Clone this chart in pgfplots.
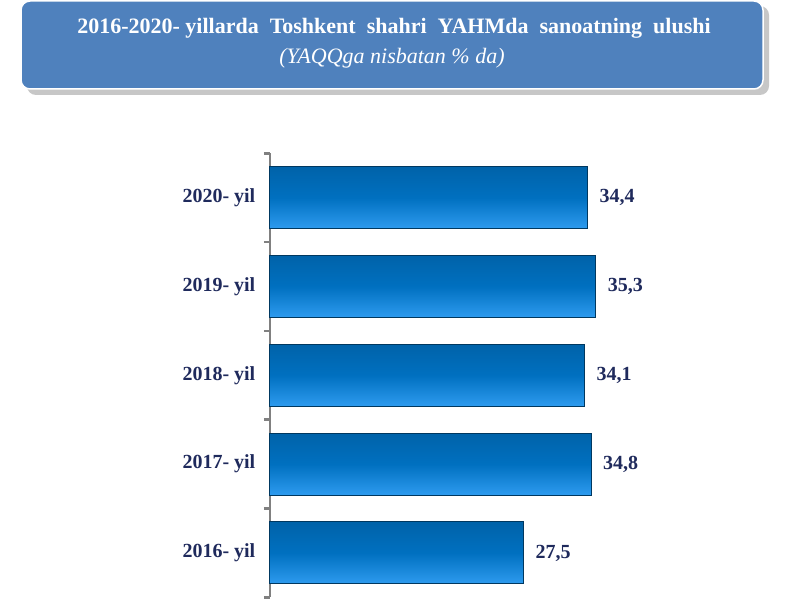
\documentclass[border=0pt]{standalone}
\usepackage{pgfplots}
\pgfplotsset{compat=1.18}
\usepackage{fontspec}
\setmainfont{Liberation Serif}
\definecolor{boxblue}{HTML}{4F81BD}
\definecolor{barblue}{HTML}{0070C0}
\definecolor{barlight}{HTML}{2E9BEF}
\definecolor{navy}{HTML}{1F2A5C}
\pgfplotsset{bevelbar/.style={draw=barblue!50!black, line width=1pt, bar shift=0pt,
  top color=barblue!88!black, bottom color=barlight, middle color=barblue}}
\begin{document}
\begin{tikzpicture}[x=1pt,y=1pt]
\useasboundingbox (0,0) rectangle (800,600);
% title box
\fill[black!22, rounded corners=9pt] (27,505) rectangle (769,594);
\fill[boxblue, draw=white, line width=1.5pt, rounded corners=9pt] (21,511) rectangle (763,599);
\node[white, font=\fontsize{22}{24}\selectfont\bfseries] at (394,572) {2016-2020- yillarda\ \ Toshkent\ \ shahri\ \ YAHMda\ \ sanoatning\ \ ulushi};
\node[white, font=\fontsize{22}{24}\selectfont\itshape] at (392,542) {(YAQQga nisbatan \% da)};
\begin{axis}[
  at={(292,3)}, anchor=south west,
  scale only axis, width=462pt, height=444pt,
  xbar, bar width=62pt,
  xmin=0, xmax=50, ymin=-0.5, ymax=4.5,
  axis x line=none, axis y line*=left,
  y axis line style={draw=gray, line width=2.5pt, -},
  ytick={0,...,4},
  yticklabels={2016- yil,2017- yil,2018- yil,2019- yil,2020- yil},
  major tick length=0pt,
  minor ytick={-0.5,0.5,...,4.5},
  minor tick length=6pt, tick align=outside,
  minor tick style={gray, line width=2.5pt},
  yticklabel style={font=\fontsize{20}{22}\selectfont\bfseries, text=navy, xshift=-11pt},
  nodes near coords,
  nodes near coords style={font=\fontsize{20}{22}\selectfont\bfseries, text=navy, xshift=8pt},
  /pgf/number format/.cd, fixed, precision=1, fixed zerofill, use comma, assume math mode=true,
  /pgfplots/.cd, clip=false,
]
\addplot[bevelbar] coordinates {(27.5,0)};
\addplot[bevelbar] coordinates {(34.8,1)};
\addplot[bevelbar] coordinates {(34.1,2)};
\addplot[bevelbar] coordinates {(35.3,3)};
\addplot[bevelbar] coordinates {(34.4,4)};
\end{axis}
\end{tikzpicture}
\end{document}
